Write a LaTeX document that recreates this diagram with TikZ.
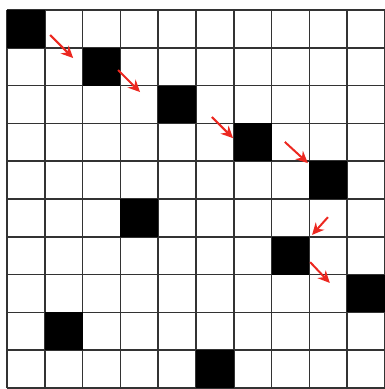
\documentclass[tikz,border=0pt]{standalone}
\usepackage{tikz}
\usetikzlibrary{arrows.meta}
\definecolor{pfeilrot}{RGB}{236,40,32}

\begin{document}
\begin{tikzpicture}[feld/.style={fill=black, draw=none, minimum size=1cm, inner sep=0pt},
    pfeil/.style={-{Stealth[length=9pt,width=8.5pt]}, pfeilrot, line width=1.5pt}]
    \useasboundingbox (-0.185,0.265) rectangle (10.0,-10.026);
    % Gitter:
    \draw[line width=1.2pt, black!80] (0,-10) grid (10,0);
    % schwarze Felder (Spalte/Zeile):
    \foreach \s/\z in {0/0,2/1,4/2,6/3,8/4,3/5,7/6,9/7,1/8,5/9}
        \node[feld] (q\z) at (\s+0.5,-\z-0.5) {};
    % Anfang und Ende der Pfeile:
    \coordinate (a1) at (1.14,-0.66); \coordinate (b1) at (1.75,-1.27); % erster Pfeil
    \coordinate (a2) at (2.94,-1.59); \coordinate (b2) at (3.52,-2.17); % zweiter Pfeil
    \coordinate (a3) at (5.42,-2.83); \coordinate (b3) at (5.98,-3.39); % dritter Pfeil
    \coordinate (a4) at (7.35,-3.49); \coordinate (b4) at (7.96,-4.05); % vierter Pfeil
    \coordinate (a5) at (8.49,-5.48); \coordinate (b5) at (8.07,-5.95); % fuenfter Pfeil
    \coordinate (a6) at (8.02,-6.67); \coordinate (b6) at (8.54,-7.22); % sechster Pfeil
\draw[pfeil] (a1) -- (b1);
\draw[pfeil] (a2) -- (b2);
\draw[pfeil] (a3) -- (b3);
\draw[pfeil] (a4) -- (b4);
\draw[pfeil] (a5) -- (b5);
\draw[pfeil] (a6) -- (b6);
\end{tikzpicture}
\end{document}
